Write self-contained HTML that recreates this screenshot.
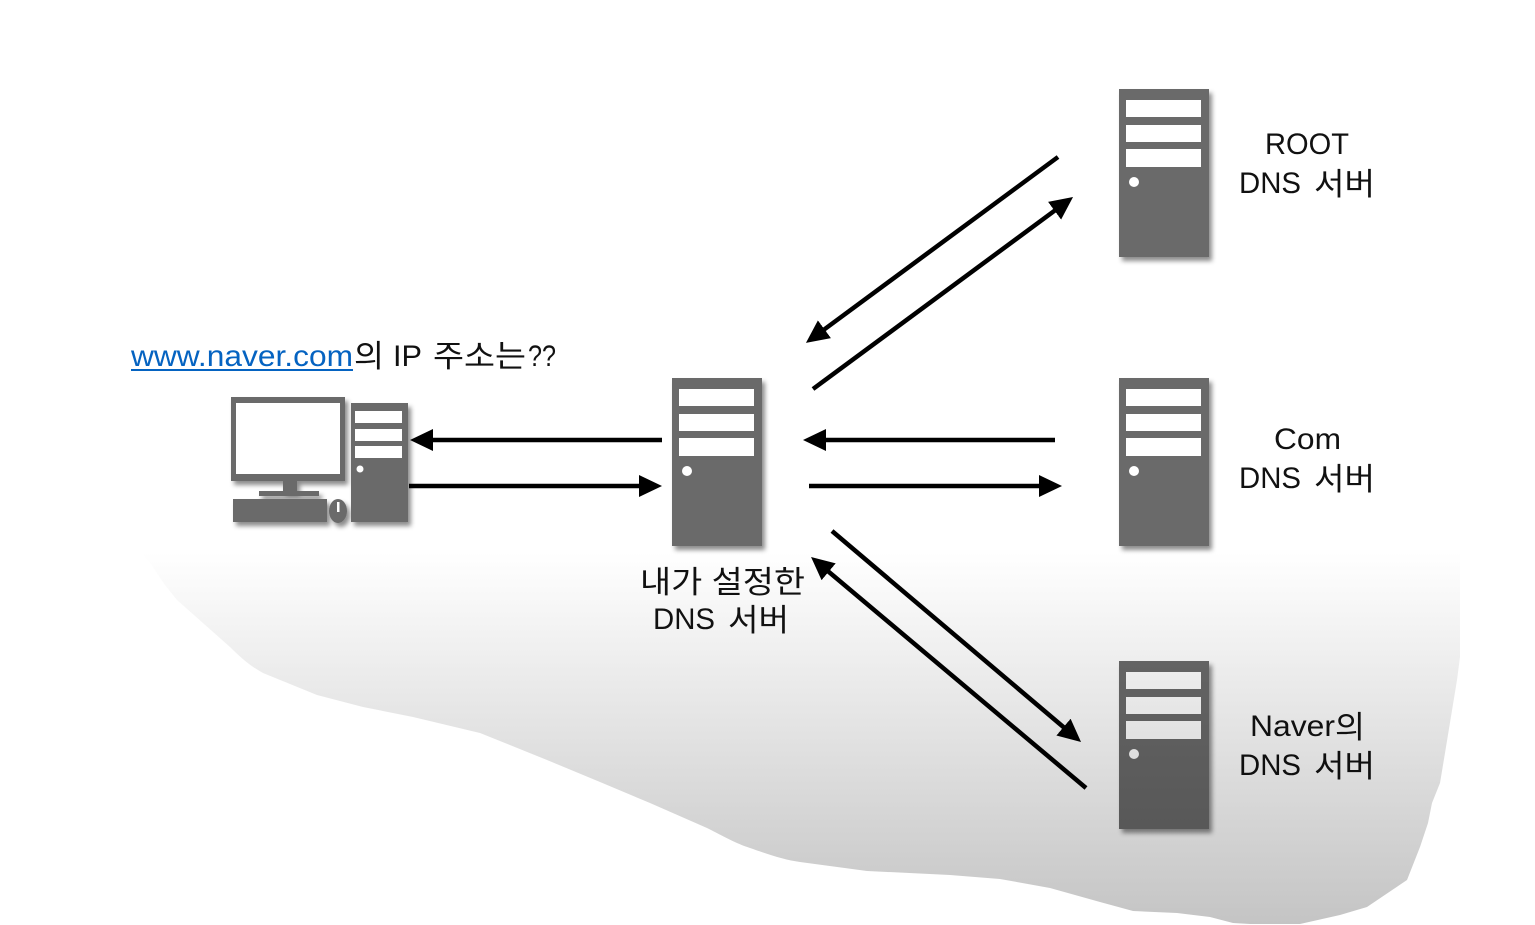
<!DOCTYPE html>
<html lang="ko">
<head>
<meta charset="utf-8">
<title>DNS</title>
<style>
html,body{margin:0;padding:0;background:#fff;width:1535px;height:925px;overflow:hidden}
svg{display:block}
text{font-family:"Liberation Sans","Noto Sans CJK KR",sans-serif;font-size:30px;fill:#111}
.k{font-family:"Noto Sans CJK KR","Liberation Sans",sans-serif;font-weight:400;font-size:31px}
.s{fill:#6b6b6b}
.w{fill:#fff}
</style>
</head>
<body>
<svg width="1535" height="925" viewBox="0 0 1535 925" xmlns="http://www.w3.org/2000/svg">
<defs>
<linearGradient id="g" gradientUnits="userSpaceOnUse" x1="0" y1="552" x2="0" y2="925">
<stop offset="0" stop-color="#fff"/><stop offset="1" stop-color="#c4c4c4"/>
</linearGradient>
<filter id="sh" x="-20%" y="-20%" width="140%" height="140%">
<feDropShadow dx="3" dy="4" stdDeviation="2.5" flood-color="#000" flood-opacity="0.45"/>
</filter>
<marker id="a" markerUnits="userSpaceOnUse" markerWidth="24" markerHeight="24" refX="13" refY="11" orient="auto">
<path d="M0 0L23 11L0 22Z" fill="#000"/>
</marker>
<g id="srv">
<rect class="s" width="90" height="168" filter="url(#sh)"/>
<rect class="w" x="7" y="11" width="75" height="17"/>
<rect class="w" x="7" y="36" width="75" height="17"/>
<rect class="w" x="7" y="60" width="75" height="18"/>
<circle class="w" cx="15" cy="93" r="5"/>
</g>
</defs>

<use href="#srv" x="1119" y="89"/>
<use href="#srv" x="672" y="378"/>
<use href="#srv" x="1119" y="378"/>
<use href="#srv" x="1119" y="661"/>

<!-- computer -->
<g filter="url(#sh)">
<rect class="s" x="231" y="397" width="114" height="84"/>
<rect class="s" x="283" y="481" width="14" height="11"/>
<rect class="s" x="259" y="491" width="60" height="5"/>
<rect class="s" x="233" y="499" width="94" height="23"/>
<ellipse class="s" cx="338" cy="511" rx="9" ry="12"/>
<rect class="s" x="351" y="403" width="57" height="119"/>
</g>
<rect class="w" x="236" y="403" width="104" height="71"/>
<rect class="w" x="337" y="502" width="2.5" height="10"/>
<rect class="w" x="355" y="411" width="47" height="12"/>
<rect class="w" x="355" y="429" width="47" height="12"/>
<rect class="w" x="355" y="446" width="47" height="12"/>
<circle class="w" cx="360" cy="469" r="3.5"/>

<!-- arrows -->
<g stroke="#000" stroke-width="4.5" fill="none">
<line x1="662" y1="440" x2="420" y2="440" marker-end="url(#a)"/>
<line x1="409" y1="486" x2="652" y2="486" marker-end="url(#a)"/>
<line x1="1055" y1="440" x2="813" y2="440" marker-end="url(#a)"/>
<line x1="809" y1="486" x2="1052" y2="486" marker-end="url(#a)"/>
<line x1="1058" y1="157" x2="814" y2="337" marker-end="url(#a)"/>
<line x1="813" y1="389" x2="1065" y2="203" marker-end="url(#a)"/>
<line x1="832" y1="531" x2="1073.4" y2="735.5" marker-end="url(#a)"/>
<line x1="1086" y1="788" x2="818.7" y2="563.4" marker-end="url(#a)"/>
</g>

<!-- top label -->
<text x="131" y="366" textLength="222" lengthAdjust="spacingAndGlyphs" style="fill:#0563c1">www.naver.com</text>
<rect x="131" y="369" width="222" height="2" fill="#0563c1"/>
<text class="k" x="354" y="367" textLength="30" lengthAdjust="spacingAndGlyphs">의</text>
<text x="393" y="366" textLength="29" lengthAdjust="spacingAndGlyphs">IP</text>
<text class="k" x="433" y="367" textLength="93" lengthAdjust="spacingAndGlyphs">주소는</text>
<text x="528" y="366" textLength="28" lengthAdjust="spacingAndGlyphs">??</text>

<!-- center label -->
<text class="k" x="640" y="593" textLength="165" lengthAdjust="spacingAndGlyphs">내가 설정한</text>
<text x="653" y="629" textLength="62" lengthAdjust="spacingAndGlyphs">DNS</text>
<text class="k" x="728" y="631" textLength="61" lengthAdjust="spacingAndGlyphs">서버</text>

<!-- ROOT -->
<text x="1265" y="154" textLength="84" lengthAdjust="spacingAndGlyphs">ROOT</text>
<text x="1239" y="193" textLength="62" lengthAdjust="spacingAndGlyphs">DNS</text>
<text class="k" x="1314" y="195" textLength="61" lengthAdjust="spacingAndGlyphs">서버</text>

<!-- Com -->
<text x="1274" y="449" textLength="67" lengthAdjust="spacingAndGlyphs">Com</text>
<text x="1239" y="488" textLength="62" lengthAdjust="spacingAndGlyphs">DNS</text>
<text class="k" x="1314" y="490" textLength="61" lengthAdjust="spacingAndGlyphs">서버</text>

<!-- Naver -->
<text x="1250" y="736" textLength="85" lengthAdjust="spacingAndGlyphs">Naver</text>
<text class="k" x="1335" y="738" textLength="30" lengthAdjust="spacingAndGlyphs">의</text>
<text x="1239" y="775" textLength="62" lengthAdjust="spacingAndGlyphs">DNS</text>
<text class="k" x="1314" y="777" textLength="61" lengthAdjust="spacingAndGlyphs">서버</text>

<!-- gradient backdrop, multiplied over everything -->
<path style="mix-blend-mode:multiply" fill="url(#g)" d="M140 552L148 560L165 585L177 600L230 647C240 657 250 666 263 673L317 695L363 707L413 717L480 733L547 760L600 782L650 803L707 828C725 837 735 843 750 848C770 855 785 860 800 862L867 871L950 875L1000 879L1050 888L1100 902L1133 911L1177 913L1210 917L1233 923L1250 924L1300 924L1340 915L1367 907L1407 880L1420 847L1428 823L1432 803L1440 783L1445 753L1457 680L1460 657L1460 552Z"/>
</svg>
</body>
</html>
